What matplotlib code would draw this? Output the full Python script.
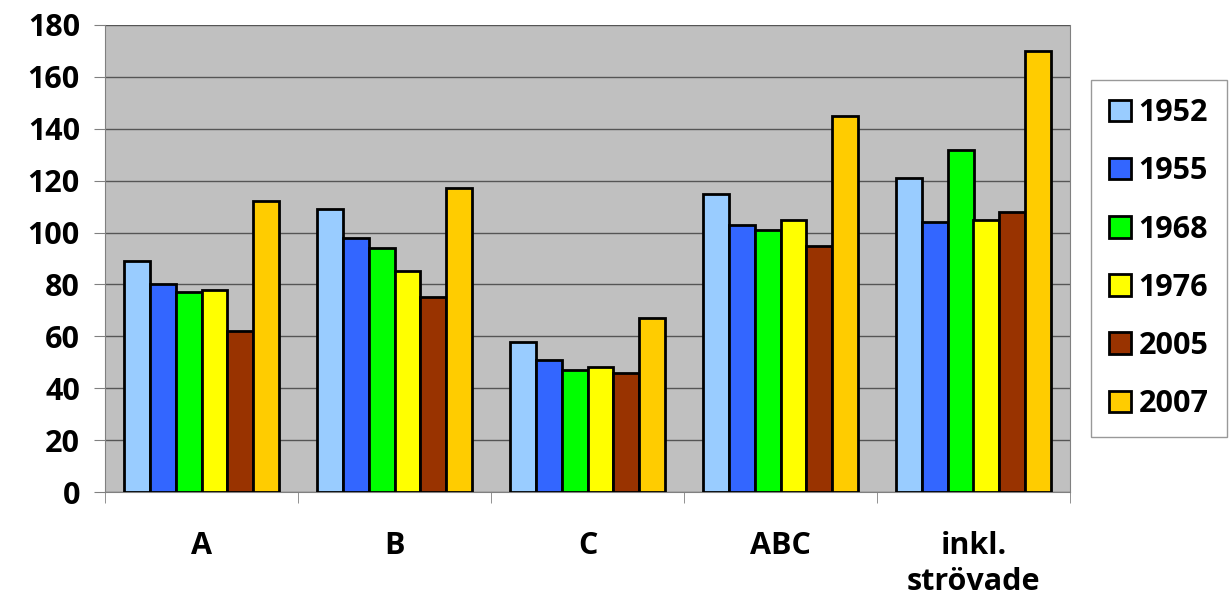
import numpy as np
import matplotlib
matplotlib.use("Agg")
import matplotlib.pyplot as plt

categories = ["A", "B", "C", "ABC", "inkl.\nströvade"]
years = ["1952", "1955", "1968", "1976", "2005", "2007"]
v1952 = [89, 109, 58, 115, 121]
v1955 = [80, 98, 51, 103, 104]
v1968 = [77, 94, 47, 101, 132]
v1976 = [78, 85, 48, 105, 105]
v2005 = [62, 75, 46, 95, 108]
v2007 = [112, 117, 67, 145, 170]
series = [v1952, v1955, v1968, v1976, v2005, v2007]
colors = ["#99CCFF", "#3366FF", "#00FF00", "#FFFF00", "#993300", "#FFCC00"]

plt.rcParams["font.family"] = ["Open Sans", "DejaVu Sans"]
plt.rcParams["font.weight"] = "bold"

fig = plt.figure(figsize=(12.32, 6.04), dpi=100)
ax = fig.add_axes([105/1232, 1-492/604, (1070-105)/1232, (492-25)/604])
ax.set_facecolor("#C0C0C0")

x = np.arange(len(categories))
w = 0.8 / len(series)
for i, (vals, c, yr) in enumerate(zip(series, colors, years)):
    ax.bar(x - 0.4 + w*(i+0.5), vals, width=w, color=c, edgecolor="black",
           linewidth=2, label=yr, zorder=3)

ax.set_xlim(-0.5, len(categories)-0.5)
ax.set_ylim(0, 180)
ax.set_yticks(range(0, 181, 20))
ax.yaxis.grid(True, color="#555555", linewidth=1, zorder=0)
ax.set_xticks(x)
ax.set_xticklabels(categories, fontsize=22, fontweight="bold", linespacing=1.25)
ax.set_xticks(np.arange(-0.5, len(categories), 1), minor=True)
ax.tick_params(axis="x", which="major", length=0, pad=28)
ax.tick_params(axis="x", which="minor", length=8, color="#808080")
ax.tick_params(axis="y", labelsize=22, length=8, color="#808080", pad=10)
for lbl in ax.get_yticklabels():
    lbl.set_fontweight("bold")
ax.spines["top"].set_visible(False)
for side in ["left", "bottom", "right"]:
    ax.spines[side].set_color("#808080")

leg = ax.legend(loc="upper left", bbox_to_anchor=(1091/1232, 1-80/604),
                bbox_transform=fig.transFigure, frameon=True, fancybox=False,
                prop={"size": 22, "weight": "bold"}, handlelength=0.7,
                handleheight=0.7, handletextpad=0.25, labelspacing=0.92,
                borderpad=0.6, borderaxespad=0)
leg.get_frame().set_edgecolor("#808080")
leg.get_frame().set_linewidth(1)

fig.savefig("out.png", dpi=100)
